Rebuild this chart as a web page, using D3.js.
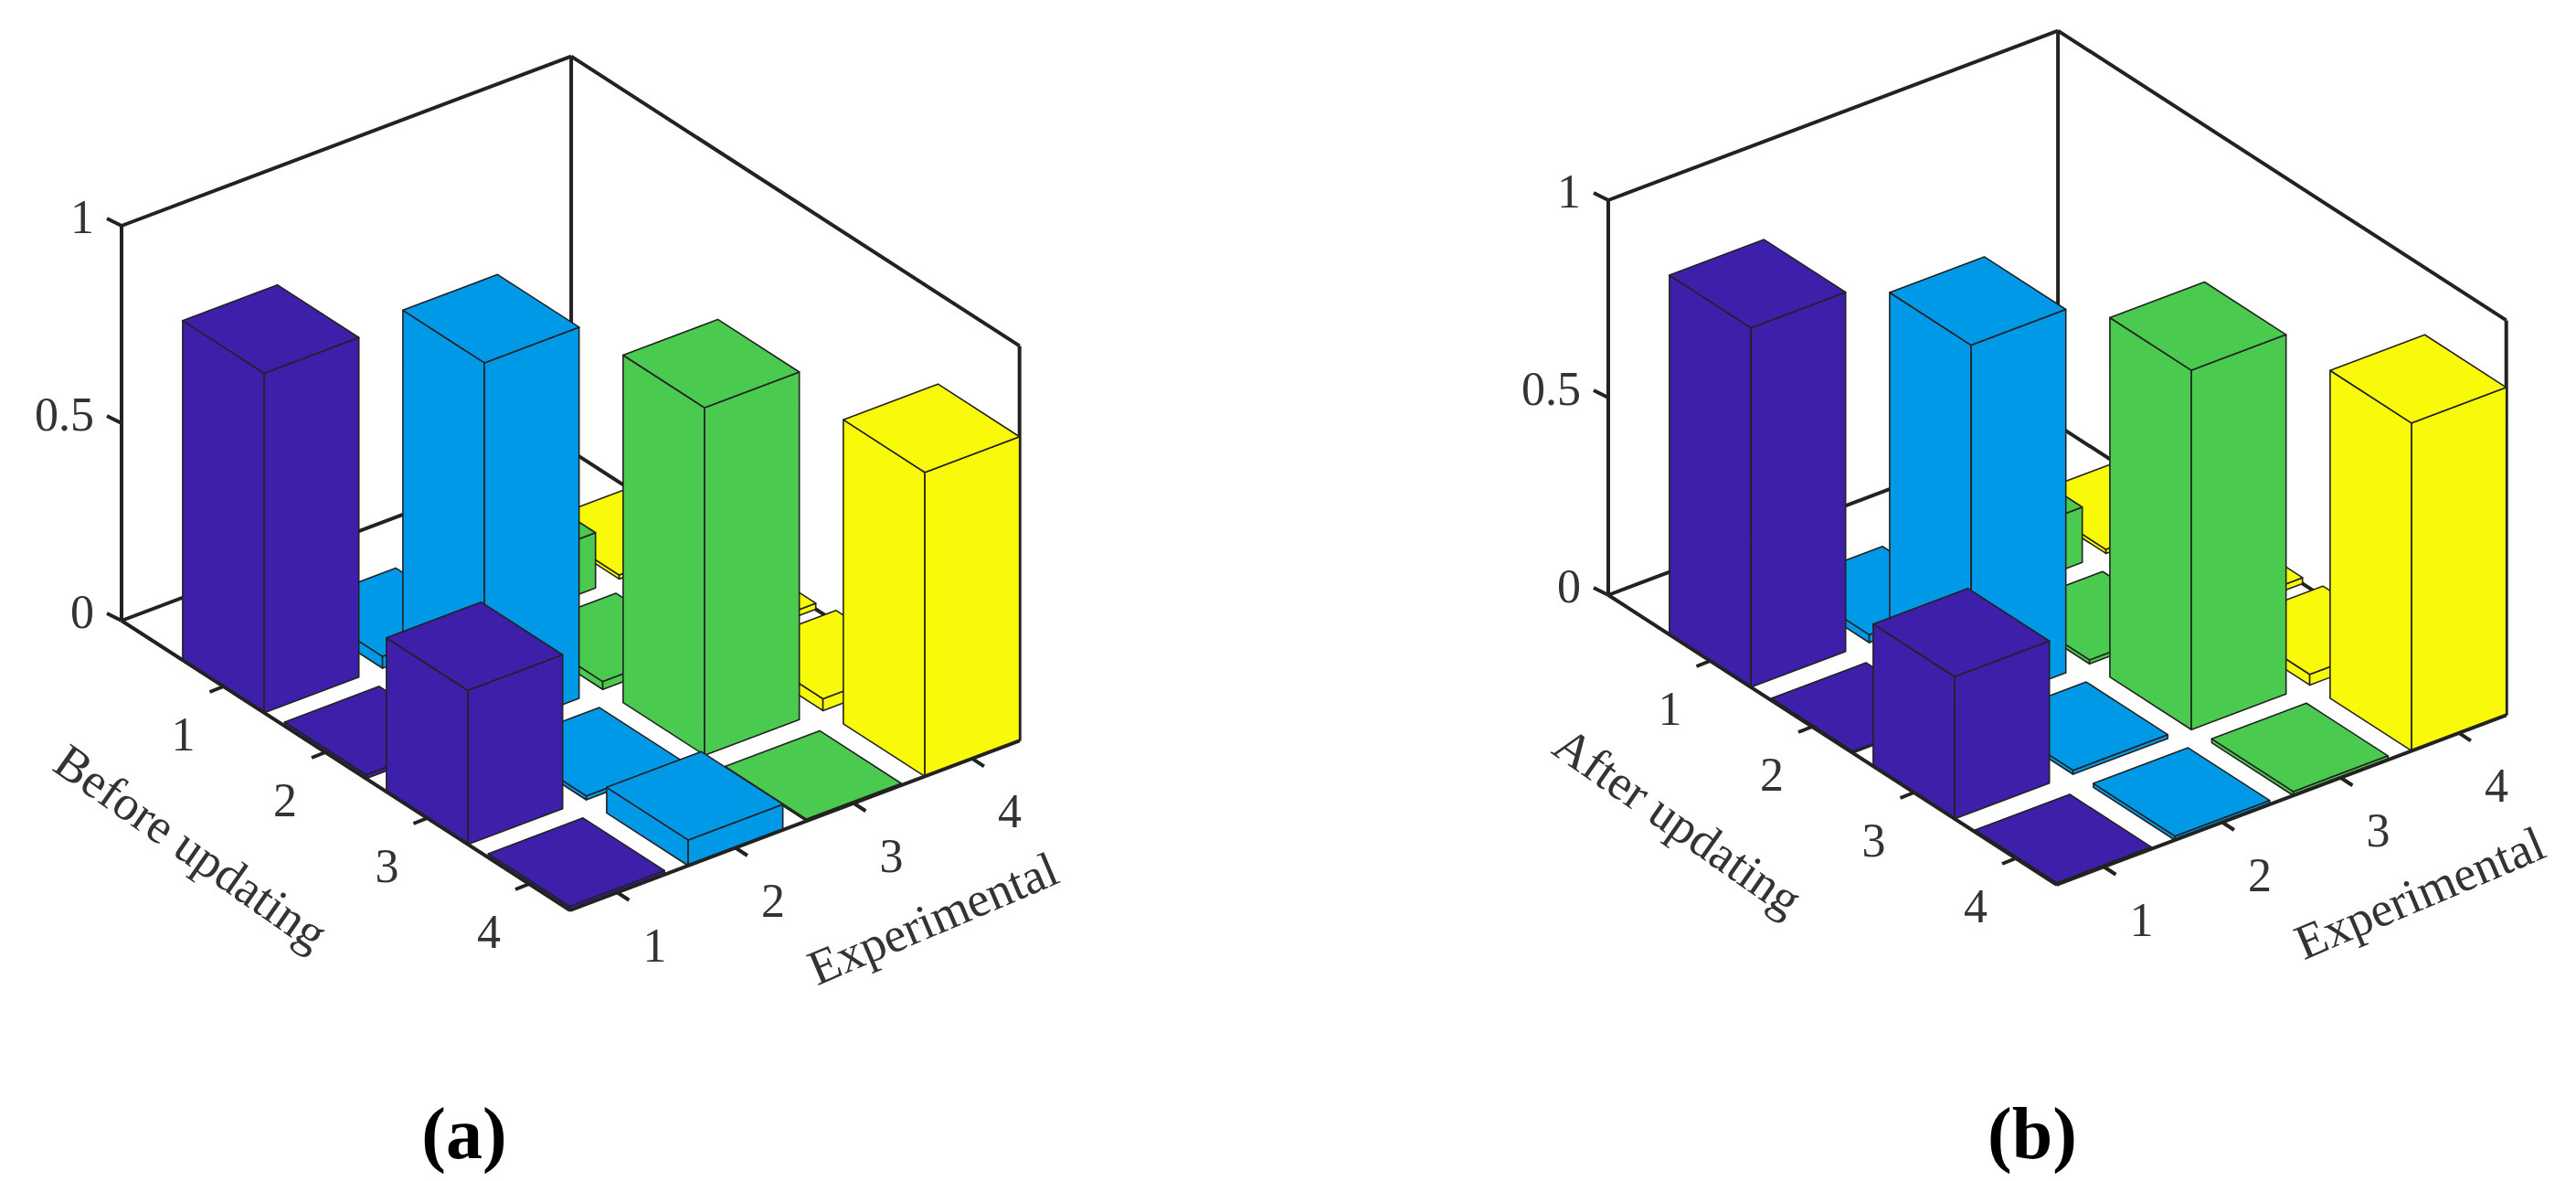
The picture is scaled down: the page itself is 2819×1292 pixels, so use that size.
<!DOCTYPE html>
<html>
<head>
<meta charset="utf-8">
<script src="https://cdn.jsdelivr.net/npm/d3@7"></script>
<style>
  body { margin: 0; background: #fff; }
  text { font-family: "Liberation Serif", "DejaVu Serif", serif; fill: #333; }
</style>
</head>
<body>
<svg id="chart" width="2819" height="1292"></svg>
<script>
// modes (rows = before/after updating), experimental modes = columns
const rows = [1, 2, 3, 4]
const cols = [1, 2, 3, 4]
const zTicks = [0, 0.5, 1]
const colColors = ['#3e1fa9', '#0099e8', '#4aca4f', '#f9f90a']

const macBefore = [
  [0.86, 0.03, 0.14, 0.01],
  [0.01, 0.94, 0.02, 0.015],
  [0.39, 0.01, 0.88, 0.03],
  [0.01, 0.065, 0.005, 0.77]
]
const macAfter = [
  [0.91, 0.02, 0.14, 0.01],
  [0.005, 0.92, 0.01, 0.015],
  [0.36, 0.01, 0.91, 0.027],
  [0.005, 0.01, 0.01, 0.83]
]

const svg = d3.select('#chart')

// oblique projection: row axis goes down-right, column axis up-right
const rowX = d3.scaleLinear().domain([0, 4.4]).range([0, 490.6])
const rowY = d3.scaleLinear().domain([0, 4.4]).range([0, 316.8])
const colX = d3.scaleLinear().domain([0.6, 4.4]).range([0, 492.1])
const colY = d3.scaleLinear().domain([0.6, 4.4]).range([0, -185.4])
const zS = d3.scaleLinear().domain([0, 1]).range([0, -432])

const barHalf = 0.4

function drawPanel(ox, oy, values, rowLabel, tag, tagX) {
  const g = svg.append('g').attr('transform', `translate(${ox},${oy})`)
  const P = (r, c, z) => [rowX(r) + colX(c), rowY(r) + colY(c) + zS(z)]
  const line = d3.line()
  const seg = (a, b, w) => g.append('path').attr('d', line([a, b]))
    .attr('stroke', '#222').attr('stroke-width', w).attr('fill', 'none')

  const r0 = 0, r1 = 4.4, c0 = 0.6, c1 = 4.4
  // back box lines
  seg(P(r0, c0, 0), P(r0, c0, 1), 4)
  seg(P(r0, c0, 1), P(r0, c1, 1), 4)
  seg(P(r0, c1, 1), P(r1, c1, 1), 4)
  seg(P(r0, c1, 0), P(r0, c1, 1), 4)
  seg(P(r1, c1, 0), P(r1, c1, 1), 4)
  seg(P(r0, c0, 0), P(r0, c1, 0), 4)
  seg(P(r0, c1, 0), P(r1, c1, 0), 4)

  // bars, back to front
  const cells = []
  rows.forEach((r, i) => cols.forEach((c, j) => cells.push({ r, c, v: values[i][j], j })))
  cells.sort((a, b) => (a.r * 72 - a.c * 48.8) - (b.r * 72 - b.c * 48.8))

  cells.forEach(d => {
    const ra = d.r - barHalf, rb = d.r + barHalf
    const ca = d.c - barHalf, cb = d.c + barHalf
    const faces = [
      [P(ra, ca, 0), P(rb, ca, 0), P(rb, ca, d.v), P(ra, ca, d.v)],
      [P(rb, ca, 0), P(rb, cb, 0), P(rb, cb, d.v), P(rb, ca, d.v)],
      [P(ra, ca, d.v), P(rb, ca, d.v), P(rb, cb, d.v), P(ra, cb, d.v)]
    ]
    faces.forEach(f => g.append('path')
      .attr('d', line(f) + 'Z')
      .attr('fill', colColors[d.j])
      .attr('stroke', '#222')
      .attr('stroke-width', 1.6)
      .attr('stroke-linejoin', 'round'))
  })

  // front axis edges
  seg(P(r0, c0, 0), P(r1, c0, 0), 4)
  seg(P(r1, c0, 0), P(r1, c1, 0), 4)

  // z ticks
  zTicks.forEach(t => {
    const p = P(r0, c0, t)
    seg(p, [p[0] - 16, p[1] - 8], 4)
    g.append('text').attr('x', p[0] - 30).attr('y', p[1] - 10)
      .attr('text-anchor', 'end').attr('dominant-baseline', 'central')
      .attr('font-size', 52).text(t)
  })
  // row ticks
  rows.forEach(r => {
    const p = P(r, c0, 0)
    seg(p, [p[0] - 15, p[1] + 6], 4)
    g.append('text').attr('x', p[0] - 44).attr('y', p[1] + 52)
      .attr('text-anchor', 'middle').attr('dominant-baseline', 'central')
      .attr('font-size', 52).text(r)
  })
  // column ticks
  cols.forEach(c => {
    const p = P(r1, c, 0)
    seg(p, [p[0] + 13, p[1] + 8.5], 4)
    g.append('text').attr('x', p[0] + 41).attr('y', p[1] + 58)
      .attr('text-anchor', 'middle').attr('dominant-baseline', 'central')
      .attr('font-size', 52).text(c)
  })

  g.append('text').attr('transform', 'translate(76,248) rotate(35)')
    .attr('text-anchor', 'middle').attr('dominant-baseline', 'central')
    .attr('font-size', 54).text(rowLabel)
  g.append('text').attr('transform', 'translate(888,326) rotate(-23)')
    .attr('text-anchor', 'middle').attr('dominant-baseline', 'central')
    .attr('font-size', 54).text('Experimental')

  svg.append('text').attr('x', tagX).attr('y', 1240)
    .attr('text-anchor', 'middle').attr('dominant-baseline', 'central')
    .attr('font-size', 80).attr('font-weight', 'bold')
    .style('fill', '#000').text(tag)
}

drawPanel(133, 679, macBefore, 'Before updating', '(a)', 508)
drawPanel(1760, 651, macAfter, 'After updating', '(b)', 2224)
</script>
</body>
</html>
